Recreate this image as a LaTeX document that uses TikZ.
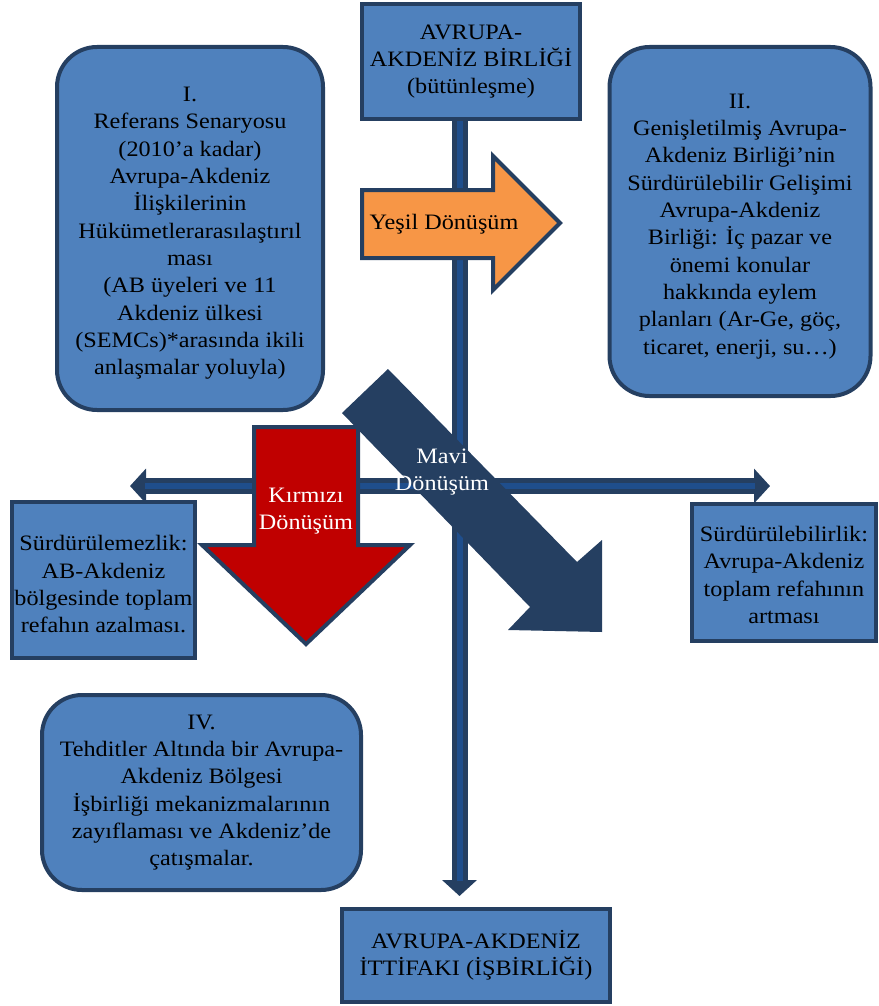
\documentclass[tikz,border=0pt]{standalone}
\usepackage{fontspec}
\setmainfont{Liberation Serif}[FakeStretch=1.1]
\usetikzlibrary{arrows.meta, backgrounds}
\definecolor{boxblue}{HTML}{4F81BD}
\definecolor{navy}{HTML}{253F61}
\definecolor{axiscore}{HTML}{1F4E8C}
\definecolor{yesil}{HTML}{F79646}
\definecolor{kirmizi}{HTML}{C00000}

\begin{document}
\begin{tikzpicture}[x=1pt, y=-1pt, >={Triangle[width=34pt, length=16pt]},
    box/.style={draw=navy, line width=4pt, fill=boxblue, align=center, inner sep=0pt,
        font=\fontsize{22}{27.3}\selectfont},
    roundbox/.style={box, rounded corners=40pt},
    arrowtext/.style={align=center, inner sep=0pt, font=\fontsize{22}{27.3}\selectfont},
    axis/.style={draw=navy, line width=16pt},
    axisin/.style={draw=axiscore, line width=6pt}]

    \useasboundingbox (0, 0) rectangle (878, 1006);

    % Avrupa-Akdeniz Birliği / İttifakı
    \node [box, minimum width=218pt, minimum height=115pt] (aeb) at (471, 61.5)
        {AVRUPA-\\AKDENİZ BİRLİĞİ\\(bütünleşme)};
    \node [box, minimum width=268pt, minimum height=93pt] (aei) at (476, 955.5)
        {AVRUPA-AKDENİZ\\İTTİFAKI (İŞBİRLİĞİ)};

    % I.
    \node [roundbox, minimum width=266pt, minimum height=363pt] (ref) at (190, 228.5)
        {\rule{0pt}{24pt}I.\\Referans Senaryosu\\(2010’a kadar)\\Avrupa-Akdeniz\\İlişkilerinin\\
         Hükümetlerarasılaştırıl\\ması\\(AB üyeleri ve 11\\Akdeniz ülkesi\\
         (SEMCs)*arasında ikili\\anlaşmalar yoluyla)};

    % II.
    \node [roundbox, minimum width=261pt, minimum height=349pt] (gen) at (740, 221.5)
        {\rule{0pt}{24pt}II.\\Genişletilmiş Avrupa-\\Akdeniz Birliği’nin\\Sürdürülebilir Gelişimi\\
         Avrupa-Akdeniz\\Birliği: İç pazar ve\\önemi konular\\hakkında eylem\\
         planları (Ar-Ge, göç,\\ticaret, enerji, su…)};

    % IV.
    \node [roundbox, minimum width=319pt, minimum height=195pt] (tehdit) at (201.5, 792.5)
        {IV.\\Tehditler Altında bir Avrupa-\\Akdeniz Bölgesi\\İşbirliği mekanizmalarının\\
         zayıflaması ve Akdeniz’de\\çatışmalar.};

    % sürdürülemezlik / sürdürülebilirlik
    \node [box, minimum width=183pt, minimum height=156pt] (sdz) at (103.5, 580)
        {\rule{0pt}{24pt}Sürdürülemezlik:\\AB-Akdeniz\\bölgesinde toplam\\refahın azalması.};
    \node [box, minimum width=184pt, minimum height=137pt] (sdb) at (784, 572.5)
        {\rule{0pt}{20pt}Sürdürülebilirlik:\\Avrupa-Akdeniz\\toplam refahının\\artması};

    % eksenler
    \coordinate (vx) at (459.5, 0);
    \coordinate (west) at (130, 486);
    \coordinate (east) at (770, 486);
    \begin{scope}[on background layer]
        \draw [axis, ->, shorten >=11pt] (vx |- aeb.south) -- (vx |- aei.north);
        \draw [axisin, shorten >=26pt] (vx |- aeb.south) -- (vx |- aei.north);
        \draw [axis, <->] (west) -- (east);
        \draw [axisin, shorten <=15pt, shorten >=15pt] (west) -- (east);
    \end{scope}

    % Yeşil Dönüşüm
    \filldraw [fill=yesil, draw=navy, line width=4pt]
        (362, 190) -- (493, 190) -- (493, 156) -- (560, 223) -- (493, 290) -- (493, 258) -- (362, 258) -- cycle;
    \node [arrowtext] (yesiltxt) at (444, 224) {Yeşil Dönüşüm};

    % Kırmızı Dönüşüm
    \filldraw [fill=kirmizi, draw=navy, line width=4pt]
        (254, 427) -- (358, 427) -- (358, 545) -- (410, 545) -- (306, 644) -- (202, 545) -- (254, 545) -- cycle;
    \node [arrowtext, text=white] (kirmizitxt) at (306, 511) {Kırmızı\\Dönüşüm};

    % Mavi Dönüşüm
    \fill [navy] (342, 413) -- (388, 369) -- (577, 562) -- (602, 540) -- (602, 632) -- (508, 630) -- (530, 607) -- cycle;
    \node [arrowtext, text=white] (mavitxt) at (442, 472) {Mavi\\Dönüşüm};
\end{tikzpicture}
\end{document}
